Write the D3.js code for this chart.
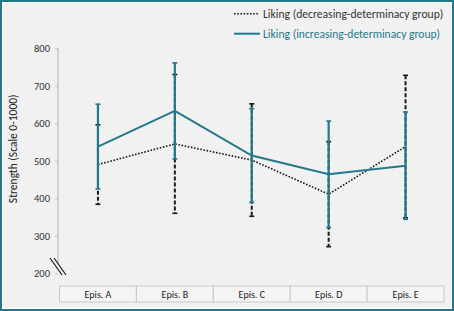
<!DOCTYPE html>
<html>
<head>
<meta charset="utf-8">
<script src="https://cdn.jsdelivr.net/npm/d3@7"></script>
<style>
  body { margin: 0; background: #fff; }
  text { font-family: Calibri, Carlito, "Open Sans", sans-serif; }
</style>
</head>
<body>
<svg></svg>
<script>
// chart data
const episodes = ['Epis. A', 'Epis. B', 'Epis. C', 'Epis. D', 'Epis. E'];
const decMean = [490, 545, 502, 411, 538];
const decErr = [106, 185, 150, 140, 190];
const incMean = [538, 633, 514, 464, 487];
const incErr = [113, 128, 125, 142, 143];
const yTicks = [200, 300, 400, 500, 600, 700, 800];
const legendLabels = ['Liking (decreasing-determinacy group)', 'Liking (increasing-determinacy group)'];

const width = 454, height = 311;
const teal = '#23798b';
const ink = '#1a1a1a';

const svg = d3.select('svg').attr('width', width).attr('height', height);

// frame
svg.append('rect').attr('x', 1).attr('y', 1).attr('width', width - 2).attr('height', height - 2)
  .attr('fill', '#f1f1f1').attr('stroke', teal).attr('stroke-width', 2);
svg.append('rect').attr('x', 2.5).attr('y', 2.5).attr('width', width - 5).attr('height', height - 5)
  .attr('fill', 'none').attr('stroke', '#fff').attr('stroke-width', 1);

const x = d3.scaleBand().domain(episodes).range([59.5, 444]);
const y = d3.scaleLinear().domain([200, 800]).range([273.3, 48.3]);
const cx = d => x(d) + x.bandwidth() / 2;

// y axis
const yAxis = svg.append('g').attr('transform', 'translate(58,0)')
  .call(d3.axisLeft(y).tickValues(yTicks).tickSize(3).tickPadding(5));
yAxis.select('.domain').attr('stroke', '#c4c4c4').attr('stroke-width', 1.5)
  .attr('d', `M0,${y(800)}V${y(225)}`);
yAxis.selectAll('.tick line').attr('stroke', '#c4c4c4');
yAxis.selectAll('.tick text').attr('fill', '#333').style('font-size', '10.5px');

// axis break marks
[0, 4].forEach(o => {
  svg.append('line').attr('x1', 50 + o).attr('y1', 258).attr('x2', 62 + o).attr('y2', 275)
    .attr('stroke', ink).attr('stroke-width', 1.2);
});

svg.append('text')
  .attr('transform', `translate(17,${(y(800) + y(200)) / 2 - 12}) rotate(-90)`)
  .attr('text-anchor', 'middle').attr('fill', '#222').style('font-size', '11.5px')
  .text('Strength (Scale 0-1000)');

// category table
const cat = svg.append('g');
cat.selectAll('rect').data(episodes).enter().append('rect')
  .attr('x', d => x(d)).attr('y', 286).attr('width', x.bandwidth()).attr('height', 16)
  .attr('fill', '#f4f4f4').attr('stroke', '#c8c8c8').attr('stroke-width', 1);
cat.selectAll('text').data(episodes).enter().append('text')
  .attr('x', cx).attr('y', 298).attr('text-anchor', 'middle')
  .attr('fill', '#222').style('font-size', '10px').text(d => d);

// error bars
function errorBars(means, errs, color, dash, w) {
  const g = svg.append('g');
  episodes.forEach((e, i) => {
    const lo = y(means[i] - errs[i]), hi = y(means[i] + errs[i]);
    g.append('line').attr('x1', cx(e)).attr('x2', cx(e)).attr('y1', hi).attr('y2', lo)
      .attr('stroke', color).attr('stroke-width', w).attr('stroke-dasharray', dash);
    [lo, hi].forEach(v => {
      g.append('line').attr('x1', cx(e) - 2.5).attr('x2', cx(e) + 2.5).attr('y1', v).attr('y2', v)
        .attr('stroke', color).attr('stroke-width', 1.6);
    });
  });
}

const line = d3.line().x((d, i) => cx(episodes[i])).y(d => y(d));

errorBars(decMean, decErr, ink, '4,2', 2);
svg.append('path').datum(decMean).attr('d', line).attr('fill', 'none')
  .attr('stroke', ink).attr('stroke-width', 1.6).attr('stroke-dasharray', '1.6,1.6');

errorBars(incMean, incErr, teal, null, 2.2);
svg.append('path').datum(incMean).attr('d', line).attr('fill', 'none')
  .attr('stroke', teal).attr('stroke-width', 2);

// legend
const legend = svg.append('g');
legend.append('line').attr('x1', 234).attr('x2', 258).attr('y1', 13.7).attr('y2', 13.7)
  .attr('stroke', ink).attr('stroke-width', 1.6).attr('stroke-dasharray', '1.6,1.6');
legend.append('text').attr('x', 263).attr('y', 17.7).attr('fill', '#333')
  .style('font-size', '11.6px').text(legendLabels[0]);
legend.append('line').attr('x1', 234).attr('x2', 260).attr('y1', 33.7).attr('y2', 33.7)
  .attr('stroke', teal).attr('stroke-width', 2);
legend.append('text').attr('x', 263).attr('y', 37.7).attr('fill', teal)
  .style('font-size', '11.6px').text(legendLabels[1]);
</script>
</body>
</html>
